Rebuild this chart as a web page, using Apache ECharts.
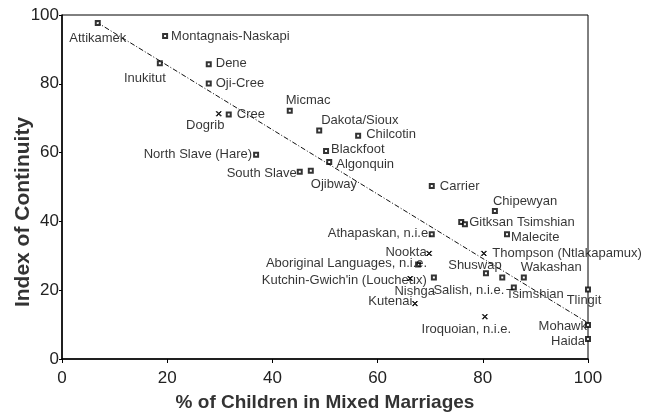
<!DOCTYPE html>
<html><head><meta charset="utf-8">
<script src="https://cdn.jsdelivr.net/npm/echarts@6/dist/echarts.min.js"></script>
<style>html,body{margin:0;padding:0;background:#fff}#c{width:645px;height:413px}</style>
</head><body><div id="c"></div>
<script>
// ---- data ----
const names = ["Attikamek","Montagnais-Naskapi","Inukitut","Dene","Oji-Cree","Micmac","Dogrib","Cree",
 "Dakota/Sioux","Chilcotin","North Slave (Hare)","Blackfoot","Algonquin","South Slave","Ojibway","Carrier",
 "Chipewyan","Gitksan Tsimshian","","Malecite","Athapaskan, n.i.e.","Nookta","Thompson (Ntlakapamux)",
 "Aboriginal Languages, n.i.e.","Shuswap","Salish, n.i.e.","Wakashan","Tsimshian","Kutchin-Gwich'in (Loucheux)",
 "Nishga","Kutenai","Iroquoian, n.i.e.","Tlingit","Mohawk","Haida"];
const pctMixed = [6.8,19.6,18.6,27.9,27.9,43.3,29.8,31.7,
 48.9,56.3,36.9,50.2,50.8,45.2,47.3,70.3,
 82.3,75.9,76.6,84.6,70.3,69.8,80.2,
 67.7,80.6,83.7,87.8,85.9,70.7,
 66.2,67.1,80.4,100,100,100];
const continuity = [97.7,93.9,86.0,85.7,80.1,72.2,71.3,71.1,
 66.4,64.9,59.4,60.5,57.3,54.4,54.7,50.3,
 43.0,39.8,39.2,36.3,36.3,30.7,30.7,
 27.5,24.9,23.7,23.7,20.8,23.7,
 23.4,16.1,12.3,20.2,9.9,5.8];
const fitX = [6.5, 100];
const fitY = [98, 10.5];
const xTicks = [0,20,40,60,80,100];
const yTicks = [0,20,40,60,80,100];
const xTitle = '% of Children in Mixed Marriages';
const yTitle = 'Index of Continuity';

// ---- styling ----
const crossNames = new Set(["Dogrib","Nookta","Thompson (Ntlakapamux)","Kutenai","Iroquoian, n.i.e.","Nishga"]);
const place = { // align, dx, dy (label anchor relative to marker centre)
 "Attikamek":["center",1,17],"Montagnais-Naskapi":["left",7,1],"Inukitut":["center",-14,16],
 "Dene":["left",8,0],"Oji-Cree":["left",8,1],"Micmac":["left",-3,-9],"Dogrib":["center",-13,12],
 "Cree":["left",9,1],"Dakota/Sioux":["left",3,-9],"Chilcotin":["left",9,0],"North Slave (Hare)":["right",-3,1],
 "Blackfoot":["left",6,0],"Algonquin":["left",8,4],"South Slave":["right",-2,3],"Ojibway":["left",1,15],
 "Carrier":["left",9,1],"Chipewyan":["left",-1,-9],"Gitksan Tsimshian":["left",9,1],"Malecite":["left",5,4],
 "Athapaskan, n.i.e.":["right",1,0],"Nookta":["right",-2,0],"Thompson (Ntlakapamux)":["left",9,1],
 "Aboriginal Languages, n.i.e.":["right",10,0],"Shuswap":["center",-10,-7],"Salish, n.i.e.":["right",3,14],
 "Wakashan":["left",-2,-9],"Tsimshian":["center",22,8],"Kutchin-Gwich'in (Loucheux)":["right",-6,4],
 "Nishga":["center",5,13],"Kutenai":["right",-2,-2],"Iroquoian, n.i.e.":["center",-18,13],
 "Tlingit":["center",-3,12],"Mohawk":["right",0,2],"Haida":["right",-2,3]
};
const crossPath = 'path://M0,1L1,0L5,4L9,0L10,1L6,5L10,9L9,10L5,6L1,10L0,9L4,5Z';
const pts = names.map((n,i)=>{
  const p = place[n] || ["center",0,0];
  const s = crossNames.has(n) ? 5 : 4;
  return {
    value:[pctMixed[i], continuity[i]],
    symbol: crossNames.has(n) ? crossPath : 'emptyRect',
    symbolSize: s,
    label:{show: n!=="", formatter: n, position:[s/2+p[1], s/2+p[2]], align:p[0], verticalAlign:'middle'}
  };
});

const chart = echarts.init(document.getElementById('c'), null, {renderer:'canvas'});
chart.setOption({
  animation:false,
  backgroundColor:'#fff',
  grid:{left:62,right:57,top:15,bottom:54,show:true,borderColor:'#000',borderWidth:1,backgroundColor:'transparent',
        containLabel:false,outerBoundsMode:'none'},
  graphic:[{type:'text',x:23,y:212,rotation:Math.PI/2,silent:true,
    style:{text:yTitle,fill:'#333',font:'bold 21px "Liberation Sans", Arial',textAlign:'center',textVerticalAlign:'middle'}}],
  xAxis:{type:'value',min:0,max:100,interval:20,
    name:xTitle,nameLocation:'middle',nameGap:34,
    nameTextStyle:{fontFamily:'Liberation Sans, Arial',fontSize:19,fontWeight:'bold',color:'#333'},
    axisLine:{lineStyle:{color:'#000',width:1.5}},axisTick:{length:4,lineStyle:{color:'#000'}},
    axisLabel:{fontFamily:'Liberation Sans, Arial',fontSize:17,color:'#222',margin:11,
      formatter:v=>xTicks.includes(v)?String(v):''},
    splitLine:{show:false}},
  yAxis:{type:'value',min:0,max:100,interval:20,
    axisLine:{lineStyle:{color:'#000',width:1.5}},axisTick:{length:3,lineStyle:{color:'#000'}},
    axisLabel:{fontFamily:'Liberation Sans, Arial',fontSize:17,color:'#222',margin:3,
      formatter:v=>yTicks.includes(v)?String(v):''},
    splitLine:{show:false}},
  series:[
    {type:'line',data:fitX.map((x,i)=>[x,fitY[i]]),symbol:'none',silent:true,z:1,
     lineStyle:{color:'#111',width:1,type:[5,2,1,2]}},
    {type:'scatter',data:pts,z:3,
     itemStyle:{color:'#000',borderColor:'#000',borderWidth:1},
     label:{fontFamily:'Liberation Sans, Arial',fontSize:13,color:'#000'},
     labelLayout:{hideOverlap:false}}
  ]
});
</script></body></html>
